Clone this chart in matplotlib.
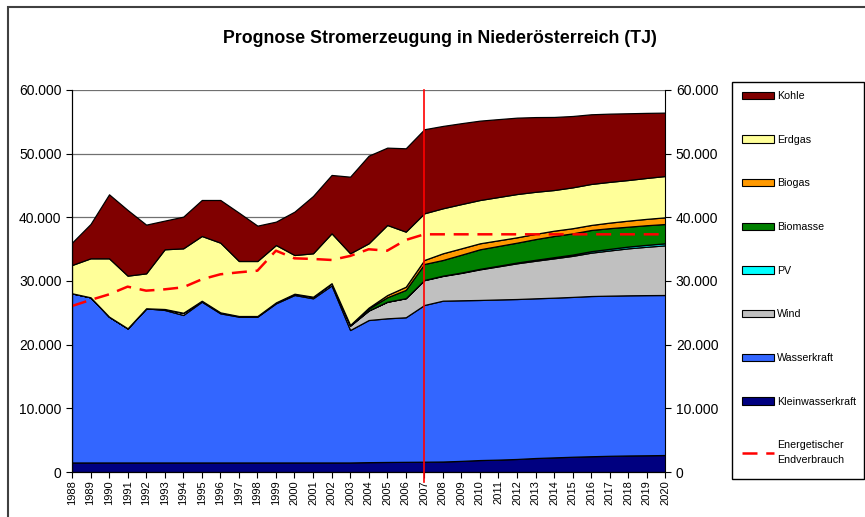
import numpy as np
import matplotlib
matplotlib.use('Agg')
import matplotlib.pyplot as plt
from matplotlib.patches import Patch, Rectangle
from matplotlib.lines import Line2D
from matplotlib.ticker import FuncFormatter

plt.rcParams['font.family'] = ['Liberation Sans', 'DejaVu Sans']

# Jahre und Werte (TJ)
jahre = list(range(1988, 2021))

kleinwasserkraft = [1500] * 16 + [1550, 1580, 1600, 1620, 1650, 1750, 1880, 1950, 2050,
                                  2200, 2300, 2400, 2480, 2550, 2600, 2630, 2670]
wasserkraft = [26570, 25940, 22900, 21070, 24210, 23950, 23160, 25250, 23420, 22900,
               22900, 24990, 26300, 25780, 27800, 20800, 22320, 22560, 22700, 24610,
               25260, 25220, 25140, 25150, 25120, 25080, 25080, 25100, 25160, 25150,
               25150, 25150, 25130]
wind = [0, 0, 0, 0, 0, 150, 350, 150, 150, 100, 100, 150, 200, 250, 350, 700, 1500,
        2600, 3000, 3900, 3880, 4300, 4810, 5200, 5610, 5900, 6180, 6450, 6810, 7100,
        7380, 7600, 7800]
pv = [0] * 19 + [30, 50, 60, 80, 100, 120, 150, 180, 200, 230, 250, 280, 300, 320]
biomasse = [0] * 15 + [100, 300, 700, 1300, 2510, 2460, 2800, 3070, 3100, 3120, 3250,
                       3330, 3330, 3330, 3250, 3120, 3080, 3030]
biogas = [0] * 16 + [150, 350, 500, 630, 1050, 1000, 940, 890, 840, 830, 830, 810, 790,
                     870, 950, 1000, 1050]
erdgas = [4440, 6120, 9160, 8270, 5490, 9380, 10120, 10170, 10950, 8640, 8640, 9010,
          6080, 6820, 7840, 11250, 10100, 11010, 8650, 7330, 7070, 6950, 6800, 6800,
          6800, 6600, 6390, 6420, 6440, 6400, 6380, 6430, 6490]
kohle = [3510, 5390, 10050, 10310, 7650, 4500, 4970, 5650, 6700, 7590, 5550, 3670,
         6810, 9000, 9160, 12030, 13760, 12140, 13090, 13200, 12930, 12700, 12460, 12230,
         11990, 11730, 11470, 11200, 10940, 10710, 10480, 10210, 9950]
endverbrauch = [26070, 27020, 27900, 29110, 28480, 28690, 29010, 30260, 31050, 31360,
                31620, 34760, 33560, 33460, 33300, 33930, 34980, 34760, 36440] + [37330] * 14

namen = ['Kleinwasserkraft', 'Wasserkraft', 'Wind', 'PV', 'Biomasse', 'Biogas', 'Erdgas', 'Kohle']
farben = ['#000080', '#3366FF', '#C0C0C0', '#00FFFF', '#008000', '#FF9900', '#FFFF99', '#800000']
werte = [kleinwasserkraft, wasserkraft, wind, pv, biomasse, biogas, erdgas, kohle]

strich = (0, (6, 3.5))

fig = plt.figure(figsize=(8.65, 5.17), dpi=100)
# Rahmen um das Diagramm (rechts/unten abgeschnitten wie im Original)
fig.patches.append(Rectangle((8 / 865, -0.2), 1.2, 1.2 - 7 / 517, transform=fig.transFigure,
                             fill=False, edgecolor='#404040', linewidth=1.5))

ax = fig.add_axes([0.0832, 0.087, 0.686, 0.739])
x = np.arange(len(jahre))
ax.set_axisbelow(True)
ax.yaxis.grid(True, color='#707070', linewidth=0.9, zorder=0)
ax.stackplot(x, *werte, colors=farben, edgecolor='black', linewidth=0.9, zorder=2)
ax.plot(x, endverbrauch, color='red', linestyle=strich, linewidth=1.8, zorder=3)

ax.set_xlim(0, len(jahre) - 1)
ax.set_ylim(0, 60000)
ax.set_yticks(range(0, 60001, 10000))
fmt = FuncFormatter(lambda v, p: f'{int(v):,}'.replace(',', '.'))
ax.yaxis.set_major_formatter(fmt)
ax.set_xticks(x)
ax.set_xticklabels([str(j) for j in jahre], rotation=90, fontsize=8)
ax.tick_params(axis='x', direction='out', length=4, pad=2)
ax.tick_params(axis='y', direction='out', length=4, labelsize=10)
for s in ['top', 'right']:
    ax.spines[s].set_visible(False)

ax2 = ax.twinx()
ax2.set_ylim(0, 60000)
ax2.set_yticks(range(0, 60001, 10000))
ax2.yaxis.set_major_formatter(fmt)
ax2.tick_params(axis='y', direction='out', length=4, labelsize=10)
ax2.spines['top'].set_visible(False)

# rote Linie bei 2007 (Beginn der Prognose)
ax2.plot([jahre.index(2007)] * 2, [-0.025, 1.0], color='red', linewidth=1.2,
         transform=ax.get_xaxis_transform(), clip_on=False, zorder=5)

fig.text(0.509, 0.926, 'Prognose Stromerzeugung in Niederösterreich (TJ)',
         ha='center', va='center', fontsize=12.8, fontweight='bold')

# Legende mit eigenem Rahmen
fig.patches.append(Rectangle((732 / 865, 1 - 479 / 517), 132 / 865, 397 / 517,
                             transform=fig.transFigure, facecolor='white',
                             edgecolor='black', linewidth=1.0, zorder=0))
handles = [Patch(facecolor=f, edgecolor='black', linewidth=0.8, label=n)
           for n, f in zip(namen[::-1], farben[::-1])]
handles.append(Line2D([0], [0], color='red', linestyle=strich, linewidth=1.8,
                      label='Energetischer\nEndverbrauch'))
leg = fig.legend(handles=handles, loc='upper left', bbox_to_anchor=(742 / 865, 1 - 91 / 517),
                 fontsize=7.7, frameon=False, labelspacing=3.15, handlelength=3.0,
                 handleheight=0.7, handletextpad=0.3, borderpad=0, borderaxespad=0)
for t in leg.get_texts():
    t.set_linespacing(1.6)

fig.savefig('out.png', dpi=100)
